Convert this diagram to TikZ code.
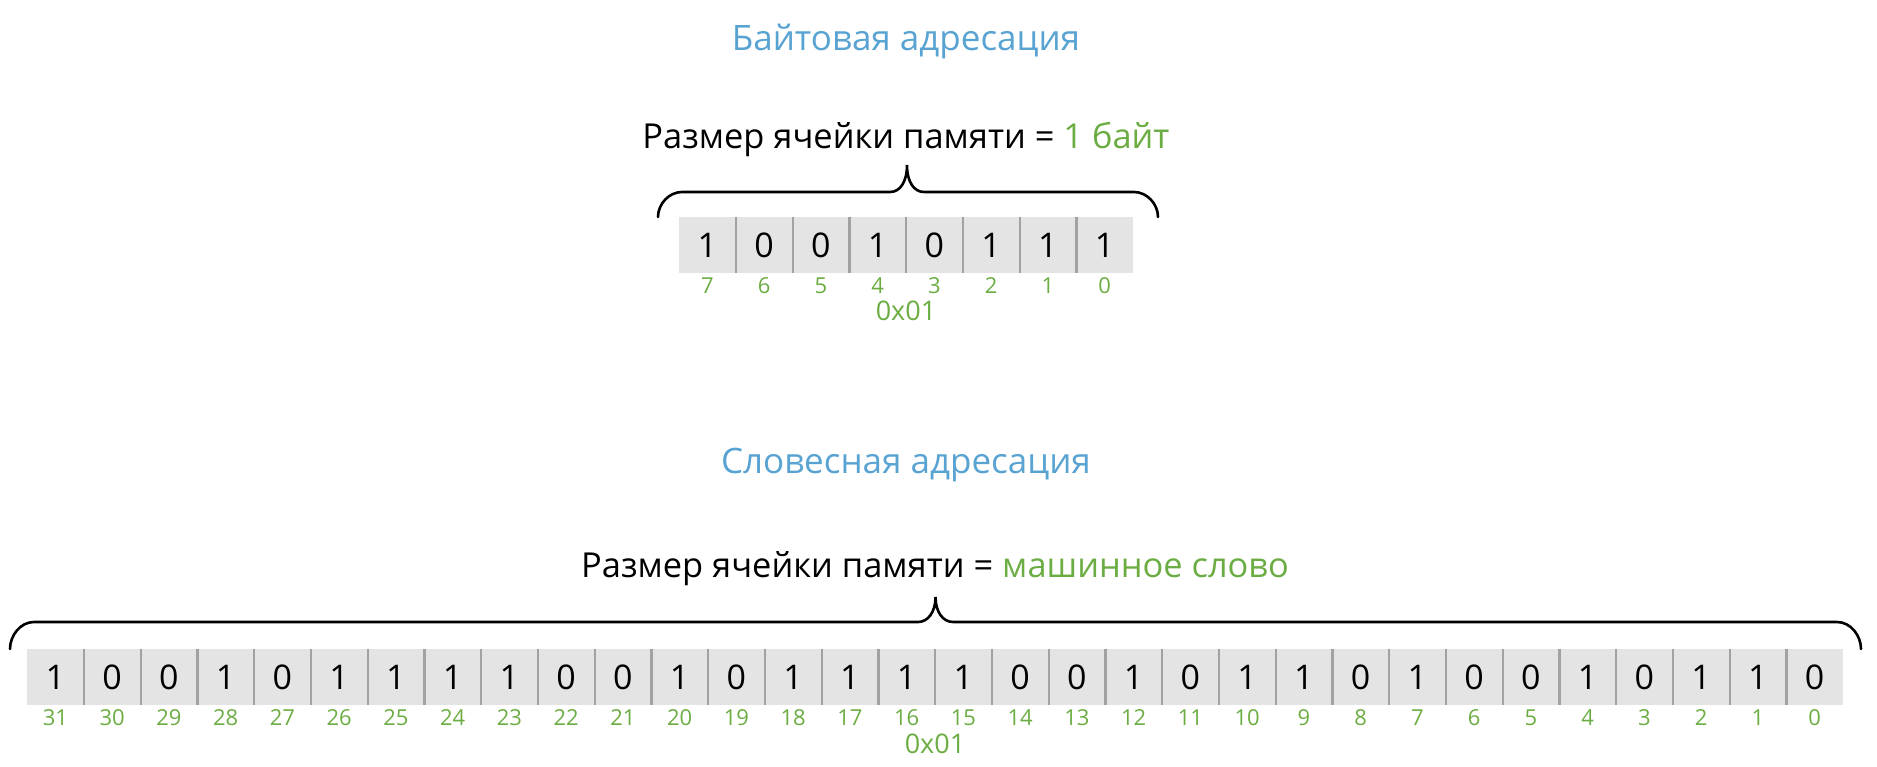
\documentclass[tikz,border=0pt]{standalone}
\usepackage{fontspec}
\setmainfont{Open Sans}
\usetikzlibrary{positioning,calc}
\definecolor{titleblue}{RGB}{88,163,210}
\definecolor{bitgreen}{RGB}{108,173,67}
\definecolor{cellgray}{RGB}{228,228,228}
\definecolor{sepgray}{RGB}{162,162,162}

\begin{document}
\begin{tikzpicture}[x=1pt,y=-1pt]

	\tikzstyle{titletext}=[text=titleblue, inner sep=0pt, anchor=base, font=\fontsize{35}{40}\selectfont];
	\tikzstyle{sizetext}=[inner sep=0pt, anchor=base, font=\fontsize{34.4}{40}\selectfont];
	\tikzstyle{bitcell}=[rectangle, fill=cellgray, inner sep=0pt, minimum width=56.75pt, minimum height=56.5pt, font=\fontsize{34}{40}\selectfont];
	\tikzstyle{bitnum}=[text=bitgreen, inner sep=0pt, font=\fontsize{22}{26}\selectfont];
	\tikzstyle{addrtext}=[text=bitgreen, inner sep=0pt, font=\fontsize{27}{32}\selectfont];
	\tikzstyle{sepline}=[draw=sepgray, line width=2.4pt];
	\tikzstyle{bracepath}=[draw=black, line width=2.6pt, line cap=round];

	\useasboundingbox (0,0) rectangle (1877,767);

	\begin{scope}

		\node (byte_title) at (906,51) [titletext]{Байтовая адресация};
		\node (byte_size) at (906,149) [sizetext]{Размер ячейки памяти = {\color{bitgreen}1 байт}};
		\foreach \b [count=\i from 0] in {1,0,0,1,0,1,1,1} {
			\pgfmathtruncatemacro{\bitno}{7-\i}
			\node (byte_cell_\bitno) at ({707.4+56.75*\i},245) [bitcell]{\b};
			\node (byte_num_\bitno) at ([yshift=-12.5pt]byte_cell_\bitno.south) [bitnum]{\bitno};
		}
		\foreach \i in {1,...,7}
			\draw [sepline] (byte_cell_\i.north east) -- (byte_cell_\i.south east);
		\node (byte_addr) at ($(byte_cell_7.south)!0.5!(byte_cell_0.south)+(0,-37.5pt)$) [addrtext]{0x01};
		\draw [bracepath] (658,217) .. controls (658,204) and (669,192) .. (682,192) -- (890,192)
			.. controls (900,192) and (907,182) .. (907,165) .. controls (907,182) and (914,192) .. (924,192)
			-- (1134,192) .. controls (1147,192) and (1158,204) .. (1158,217);

	\end{scope}

	\begin{scope}

		\node (word_title) at (906,473) [titletext]{Словесная адресация};
		\node (word_size) at (935,577) [sizetext]{Размер ячейки памяти = {\color{bitgreen}машинное слово}};
		\foreach \b [count=\i from 0] in {1,0,0,1,0,1,1,1,1,0,0,1,0,1,1,1,1,0,0,1,0,1,1,0,1,0,0,1,0,1,1,0} {
			\pgfmathtruncatemacro{\bitno}{31-\i}
			\node (word_cell_\bitno) at ({55.4+56.75*\i},677) [bitcell]{\b};
			\node (word_num_\bitno) at ([yshift=-12.5pt]word_cell_\bitno.south) [bitnum]{\bitno};
		}
		\foreach \i in {1,...,31}
			\draw [sepline] (word_cell_\i.north east) -- (word_cell_\i.south east);
		\node (word_addr) at ($(word_cell_31.south)!0.5!(word_cell_0.south)+(0,-38pt)$) [addrtext]{0x01};
		\draw [bracepath] (10,649) .. controls (10,636) and (20,622) .. (34,622) -- (918,622)
			.. controls (928,622) and (935.5,612) .. (935.5,597) .. controls (935.5,612) and (943,622) .. (953,622)
			-- (1837,622) .. controls (1851,622) and (1861,636) .. (1861,649);

	\end{scope}

\end{tikzpicture}
\end{document}
